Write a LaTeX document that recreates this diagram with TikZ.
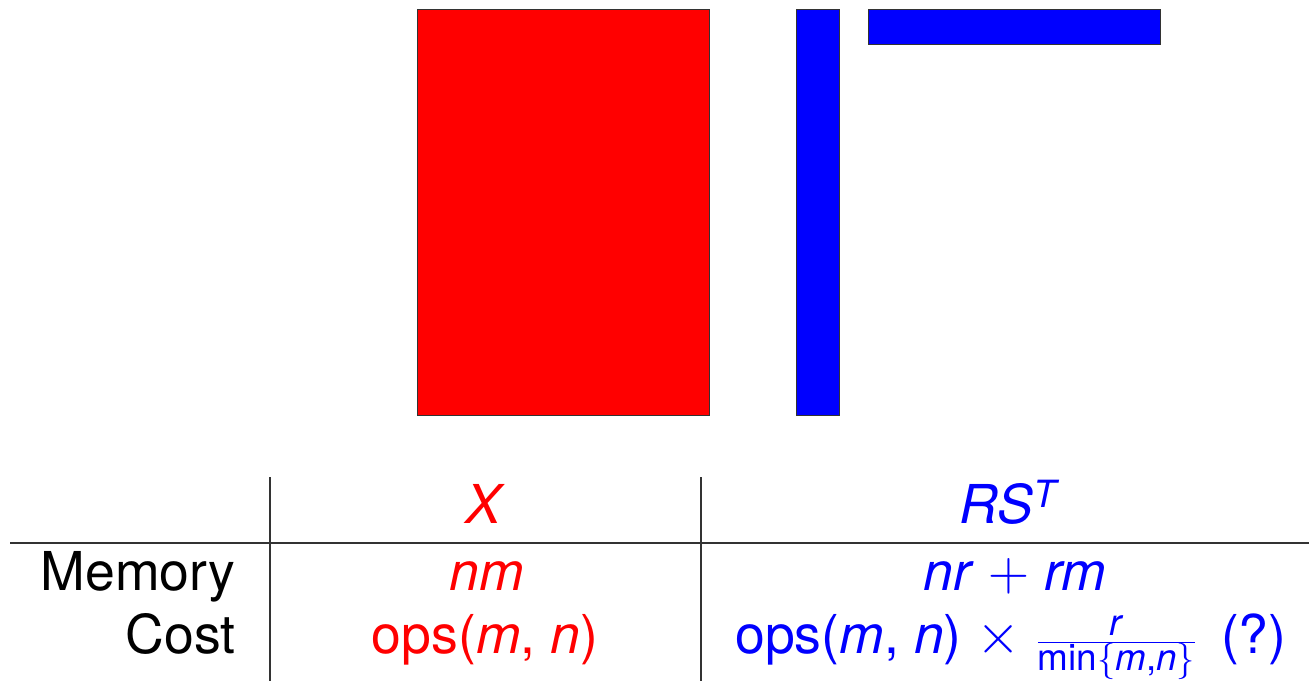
\documentclass[tikz,border=0pt]{standalone}
\usepackage{fontspec}
\setmainfont{TeX Gyre Heros}
\usetikzlibrary{positioning}
\definecolor{lrred}{RGB}{255,0,0}
\definecolor{lrblue}{RGB}{0,0,255}
\tikzset{
  lr/.style={font=\fontsize{30.5}{36}\selectfont},
  lrmat/.style={draw=black!80, line width=0.6pt, inner sep=0pt, fill=#1},
  lrcell/.style={lr, anchor=base, inner sep=0pt},
  lrrow/.style={lr, anchor=base east, inner sep=0pt},
  lrrule/.style={line width=0.6pt, draw=black!80},
}
\newcommand{\lv}[1]{\textit{#1}}
\newcommand{\lrsmall}[1]{\hbox{\fontsize{21}{23}\selectfont #1}}
\newcommand{\lrop}[1]{$\mathbin{\scalebox{1.3}{$#1$}}$}

\begin{document}
\begin{tikzpicture}[x=0.02cm, y=-0.02cm]
    \useasboundingbox (0,0) rectangle (1309,681);

    % Matrices
    \node[lrmat=lrred, minimum width=5.84cm, minimum height=8.12cm, anchor=north west] (X) at (417,9) {};
    \node[lrmat=lrblue, minimum width=0.86cm, minimum height=8.12cm, anchor=north west] (R) at (796,9) {};
    \node[lrmat=lrblue, minimum width=5.84cm, minimum height=0.70cm, anchor=north west] (S) at (868,9) {};

    % Tabelle: Kopf
    \node[lrcell, text=lrred] (hX) at (485,523) {\lv{X}};
    \node[lrcell, text=lrblue] (hRS) at (1010,523) {\lv{RS}\textsuperscript{\lv{T}}};

    % Zeilen
    \node[lrrow] (mem) at (236,590) {Memory};
    \node[lrrow] (cost) at (236,653) {Cost};
    \node[lrcell, text=lrred] (memX) at (487,590) {\lv{nm}};
    \node[lrcell, text=lrblue] (memRS) at (1015,590) {\lv{nr} \lrop{+} \lv{rm}};
    \node[lrcell, text=lrred] (costX) at (485,653) {ops(\lv{m}, \lv{n})};
    \node[lrcell, text=lrblue] (costRS) at (1011,653)
      {ops(\lv{m}, \lv{n}) \lrop{\times} $\frac{\lrsmall{\lv{r}}}{\lrsmall{min$\{$\lv{m},\lv{n}$\}$}}$\, (?)};

    % Linien
    \coordinate (v1t) at (270,477);
    \coordinate (v1b) at (270,681);
    \coordinate (v2t) at (701,477);
    \coordinate (v2b) at (701,681);
    \coordinate (hl) at (10,543);
    \coordinate (hr) at (1309,543);
    \draw[lrrule] (v1t) -- (v1b);
    \draw[lrrule] (v2t) -- (v2b);
    \draw[lrrule] (hl) -- (hr);
  \end{tikzpicture}
\end{document}
